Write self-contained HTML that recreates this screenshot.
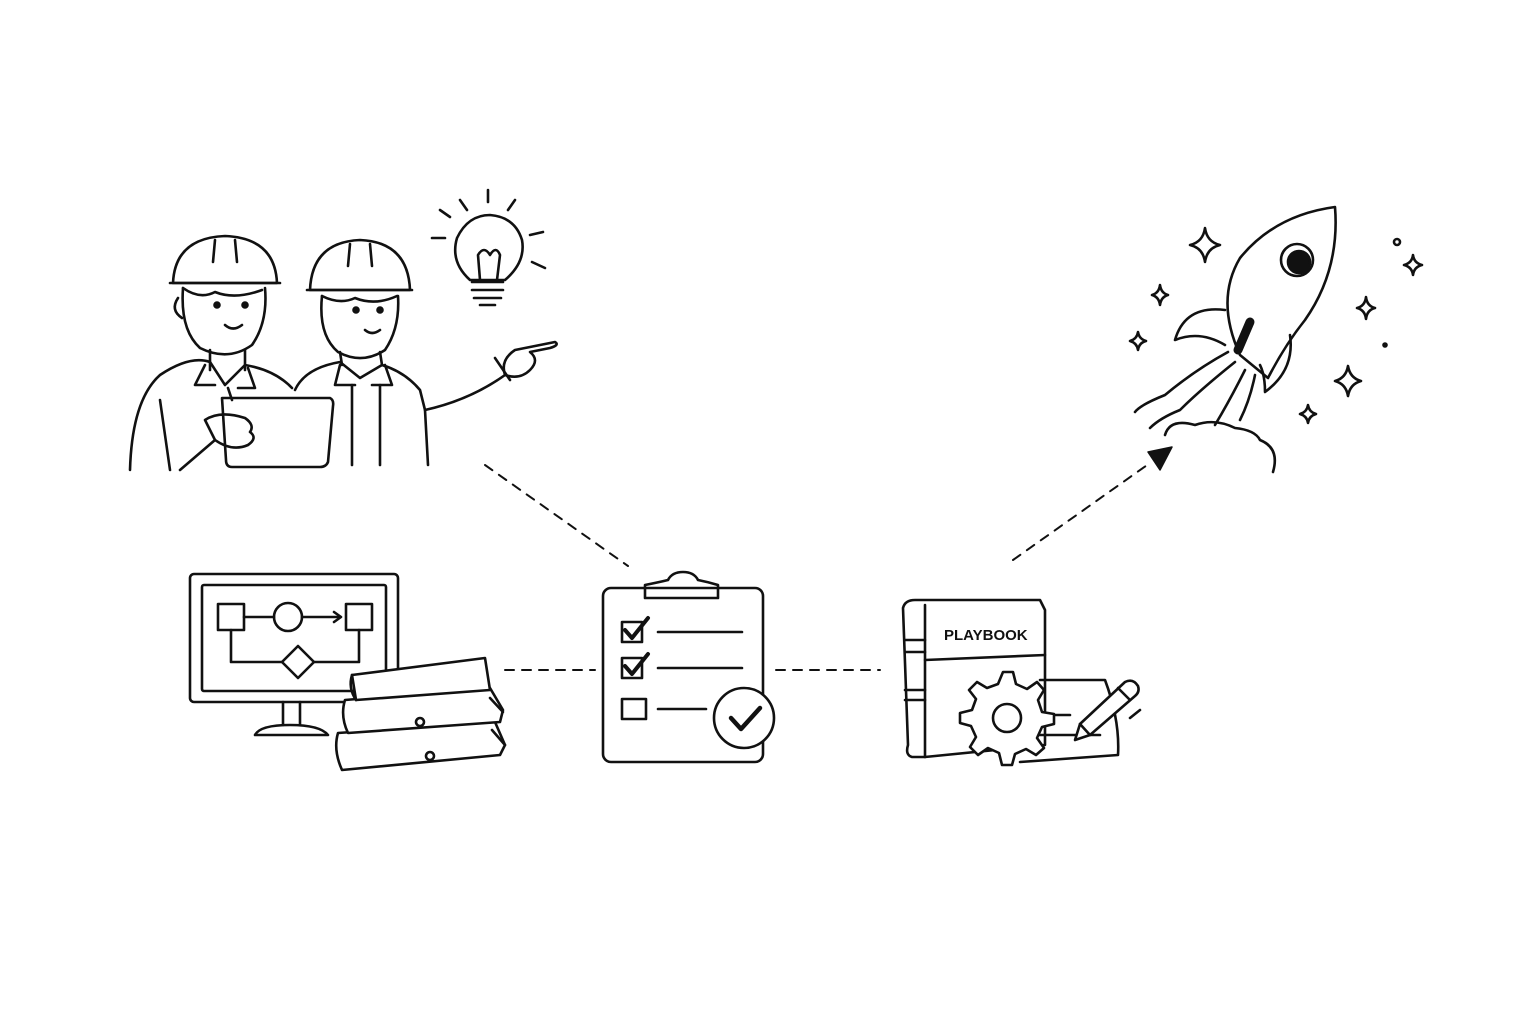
<!DOCTYPE html>
<html><head><meta charset="utf-8"><style>
html,body{margin:0;padding:0;background:#fff;}
svg{display:block}
</style></head><body>
<svg width="1536" height="1024" viewBox="0 0 1536 1024" xmlns="http://www.w3.org/2000/svg">
<rect width="1536" height="1024" fill="#fff"/>
<g fill="none" stroke="#111" stroke-width="2.6" stroke-linecap="round" stroke-linejoin="round">

<!-- Connectors -->
<g stroke-dasharray="9 8" stroke-width="2">
<line x1="485" y1="465" x2="628" y2="566"/>
<line x1="505" y1="670" x2="595" y2="670"/>
<line x1="776" y1="670" x2="880" y2="670"/>
<line x1="1013" y1="560" x2="1150" y2="463"/>
</g>
<polygon points="1172,447 1148,452 1160,470" fill="#111" stroke="#111" stroke-width="1.5"/>

<!-- Worker 1 -->
<path d="M173,283 Q175,238 225,236 Q275,238 277,283 Z"/>
<path d="M170,283 L280,283"/>
<path d="M215,240 L213,262 M235,240 L237,262"/>
<path d="M183,288 Q180,330 200,348 Q228,362 252,345 Q268,322 265,288"/>
<path d="M183,288 Q200,300 215,292 Q235,300 262,290"/>
<circle cx="217" cy="305" r="2.5" fill="#111"/><circle cx="245" cy="305" r="2.5" fill="#111"/>
<path d="M225,325 Q233,332 242,325"/>
<path d="M178,298 Q170,310 182,318"/>
<path d="M210,350 L210,370 M245,350 L245,370"/>
<path d="M130,470 Q132,400 160,375 Q190,355 210,362 L225,385 L245,365 Q275,370 292,388"/>
<path d="M160,400 L170,470"/>
<path d="M205,365 L195,385 L215,385 M248,368 L255,388 L238,388"/>
<path d="M228,388 L232,400"/>
<path d="M222,398 L330,398 Q334,400 333,406 L328,462 Q326,467 320,467 L232,467 Q226,467 226,460 Z"/>
<path d="M205,420 Q220,410 245,418 Q255,425 250,432 Q258,438 248,445 Q232,452 215,440 Z"/>
<path d="M180,470 L215,440"/>

<!-- Worker 2 -->
<path d="M310,290 Q312,242 360,240 Q408,242 410,290 Z"/>
<path d="M307,290 L412,290"/>
<path d="M350,244 L348,266 M370,244 L372,266"/>
<path d="M322,296 Q318,335 338,352 Q362,365 385,350 Q400,328 398,296"/>
<path d="M322,296 Q340,305 355,298 Q375,306 397,296"/>
<circle cx="356" cy="310" r="2.5" fill="#111"/><circle cx="380" cy="310" r="2.5" fill="#111"/>
<path d="M365,330 Q372,336 380,330"/>
<path d="M340,352 L342,365 M380,352 L382,365"/>
<path d="M295,390 Q305,368 340,362 L360,378 L382,365 Q405,372 420,390 L425,410 Q470,400 505,375"/>
<path d="M340,365 L335,385 L355,385 M385,365 L392,385 L372,385"/>
<path d="M352,385 L352,465 M380,385 L380,465"/>
<path d="M425,410 L428,465"/>
<path d="M505,375 Q500,360 515,350 L555,342 Q560,345 550,348 L530,352 Q540,360 530,370 Q520,380 505,375"/>
<path d="M495,358 L510,380"/>

<!-- Lightbulb -->
<path d="M470,280 Q450,262 457,238 Q468,215 490,215 Q515,217 522,240 Q526,262 505,280 Z"/>
<path d="M472,282 L503,282 M472,290 L503,290 M474,298 L501,298 M480,305 L495,305"/>
<path d="M480,280 L478,255 Q484,245 490,255 Q496,245 500,255 L497,280"/>
<path d="M488,190 L488,202 M460,200 L467,210 M515,200 L508,210 M432,238 L445,238 M530,235 L543,232 M440,210 L450,217 M532,262 L545,268"/>

<!-- Monitor -->
<rect x="190" y="574" width="208" height="128" rx="4"/>
<rect x="202" y="585" width="184" height="106" rx="2"/>
<path d="M283,702 L283,725 M300,702 L300,725"/>
<path d="M255,735 Q260,725 290,725 Q320,725 328,735 Z"/>
<rect x="218" y="604" width="26" height="26"/>
<circle cx="288" cy="617" r="14"/>
<rect x="346" y="604" width="26" height="26"/>
<path d="M244,617 L274,617 M302,617 L340,617"/>
<path d="M334,612 L341,617 L334,622"/>
<path d="M231,630 L231,662 L282,662 M314,662 L359,662 L359,630"/>
<path d="M298,646 L314,662 L298,678 L282,662 Z"/>

<!-- Books -->
<g fill="#fff">
<path d="M338,733 L495,722 L505,745 L500,755 L342,770 Q333,750 338,733 Z"/>
<path d="M345,700 L490,688 L503,710 L500,722 L348,733 Q340,716 345,700 Z"/>
<path d="M352,675 L485,658 L490,690 L356,700 Z"/>
</g>
<path d="M352,675 Q348,688 356,700"/>
<circle cx="420" cy="722" r="4"/><circle cx="430" cy="756" r="4"/>
<path d="M490,698 L503,712 M492,730 L505,745"/>

<!-- Clipboard -->
<rect x="603" y="588" width="160" height="174" rx="8"/>
<path d="M645,598 L645,585 Q660,582 668,580 Q672,572 683,572 Q694,572 698,580 Q708,582 718,585 L718,598 Z"/>
<rect x="622" y="622" width="20" height="20"/><path d="M625,630 L632,638 L648,618" stroke-width="4"/>
<rect x="622" y="658" width="20" height="20"/><path d="M625,666 L632,674 L648,654" stroke-width="4"/>
<rect x="622" y="699" width="24" height="20"/>
<path d="M658,632 L742,632 M658,668 L742,668 M658,709 L706,709"/>
<circle cx="744" cy="718" r="30" fill="#fff"/>
<path d="M731,718 L741,729 L760,708" stroke-width="4.5"/>

<!-- Playbook -->
<path d="M903,608 Q905,600 915,600 L1040,600 L1045,610 L1045,745 L925,757 L912,757 Q905,755 908,745 Z"/>
<path d="M925,605 L925,757"/>
<path d="M905,640 L925,640 M905,652 L925,652 M905,690 L925,690 M905,700 L925,700"/>
<path d="M925,660 L1045,655"/>
<text x="944" y="640" font-family="Liberation Sans, sans-serif" font-size="15" font-weight="bold" fill="#111" stroke="none">PLAYBOOK</text>
<path d="M1040,680 L1105,680 Q1120,720 1118,755 L1020,762"/>
<path d="M1048,715 L1070,715 M1035,735 L1100,735"/>
<path d="M1003,672 L1013,672 L1016,684 L1027,689 L1037,682 L1044,690 L1038,700 L1042,712 L1054,714 L1054,724 L1042,727 L1037,738 L1044,748 L1036,755 L1026,749 L1015,754 L1012,765 L1002,765 L999,753 L988,748 L978,755 L970,747 L976,737 L971,726 L960,723 L960,713 L972,710 L976,699 L969,690 L977,682 L987,688 L998,684 Z" fill="#fff"/>
<circle cx="1007" cy="718" r="14"/>
<path d="M1080,724 L1125,682 Q1133,678 1138,686 Q1140,692 1135,696 L1090,735 L1075,740 Z" fill="#fff"/>
<path d="M1118,688 L1130,700 M1080,724 L1090,735"/>
<path d="M1130,718 L1140,710"/>

<!-- Rocket -->
<path d="M1240,355 Q1215,300 1240,258 Q1275,215 1335,207 Q1340,270 1305,320 Q1285,345 1268,378 Z" fill="#fff"/>
<circle cx="1297" cy="260" r="16"/>
<circle cx="1299" cy="262" r="11" fill="#111"/>
<path d="M1250,322 L1238,350" stroke-width="9"/>
<path d="M1225,310 Q1185,305 1175,340 Q1200,330 1225,345"/>
<path d="M1290,335 Q1295,370 1265,392 Q1265,375 1260,365"/>
<path d="M1228,352 Q1195,370 1165,395 Q1140,405 1135,412 M1235,362 Q1200,390 1180,410 Q1160,418 1150,428 M1245,370 Q1230,400 1215,425 M1255,375 Q1250,400 1240,420"/>
<path d="M1165,435 Q1170,418 1195,425 Q1215,418 1235,428 Q1255,430 1260,440 Q1280,448 1273,472"/>
<g fill="#fff">
<path d="M1205,228 Q1207,242 1220,245 Q1207,248 1205,262 Q1203,248 1190,245 Q1203,242 1205,228 Z"/>
<path d="M1160,285 Q1161,293 1168,295 Q1161,297 1160,305 Q1159,297 1152,295 Q1159,293 1160,285 Z"/>
<path d="M1138,332 Q1139,339 1146,341 Q1139,343 1138,350 Q1137,343 1130,341 Q1137,339 1138,332 Z"/>
<path d="M1413,255 Q1414,263 1422,265 Q1414,267 1413,275 Q1412,267 1404,265 Q1412,263 1413,255 Z"/>
<path d="M1366,297 Q1367,306 1375,308 Q1367,310 1366,319 Q1365,310 1357,308 Q1365,306 1366,297 Z"/>
<path d="M1348,366 Q1350,378 1361,381 Q1350,384 1348,396 Q1346,384 1335,381 Q1346,378 1348,366 Z"/>
<path d="M1308,405 Q1309,412 1316,414 Q1309,416 1308,423 Q1307,416 1300,414 Q1307,412 1308,405 Z"/>
</g>
<circle cx="1397" cy="242" r="3"/>
<circle cx="1385" cy="345" r="1.5" fill="#111"/>
</g>
</svg>
</body></html>
